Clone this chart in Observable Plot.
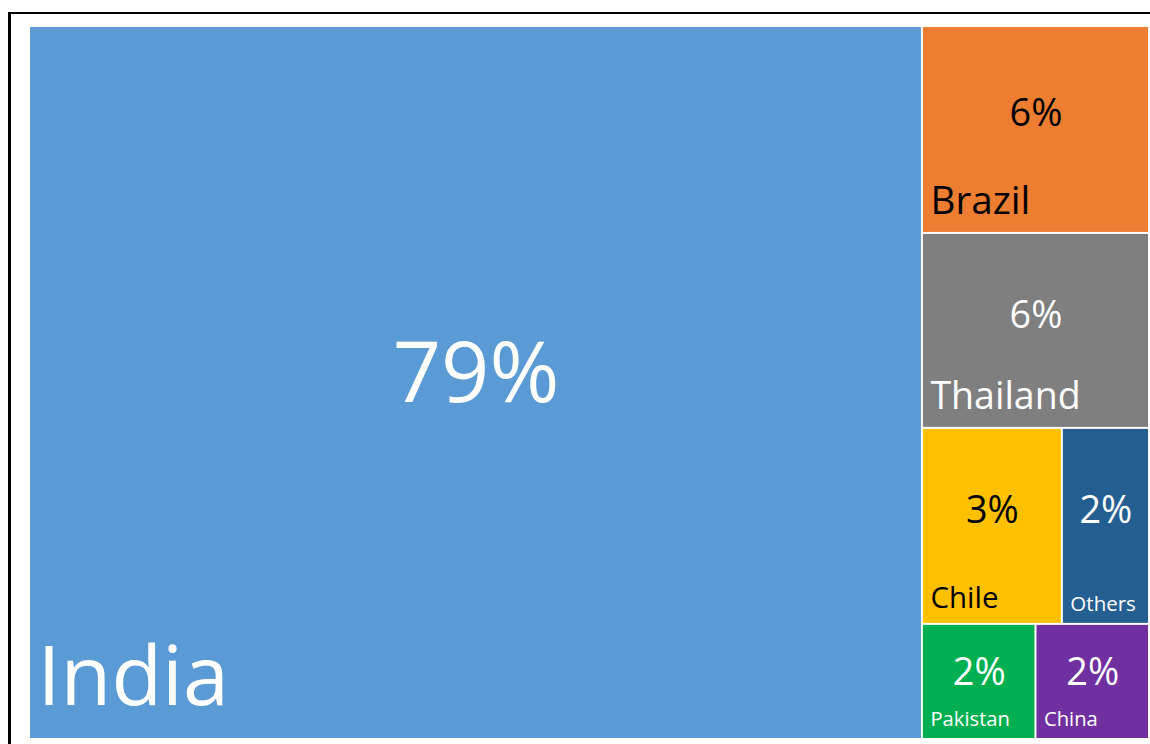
<!DOCTYPE html>
<html>
<head>
<meta charset="utf-8">
<script src="https://cdn.jsdelivr.net/npm/d3@7"></script>
<script src="https://cdn.jsdelivr.net/npm/@observablehq/plot@0.6"></script>
<style>
  html, body { margin: 0; padding: 0; background: #fff; overflow: hidden; width: 1150px; height: 744px; }
  #chart { position: absolute; left: 0; top: 0; }
  #frame { position: absolute; left: 8px; top: 12px; width: 1300px; height: 900px;
           border-left: 3px solid #000; border-top: 2px solid #000; box-sizing: border-box; z-index: 2; }
</style>
</head>
<body>
<div id="chart"></div>
<div id="frame"></div>
<script>
// ---- data ----
const countries = ["India", "Brazil", "Thailand", "Chile", "Others", "Pakistan", "China"];
const shares    = [79.4, 5.86, 5.52, 3.42, 2.13, 1.63, 1.63];      // % of total
const groupPath = ["", "Rest", "Rest", "Rest/Mid", "Rest/Mid", "Rest/Low", "Rest/Low"]; // nesting used by the layout
const palette   = ["#5B9BD5", "#ED7D31", "#7F7F7F", "#FFC000", "#255E91", "#00B050", "#7030A0"];
const darkLabels = new Set(["Brazil", "Chile"]);

// ---- layout (d3 treemap, slice/dice on the nested groups) ----
const W = 1120, H = 713;
const rows = countries.map((c, i) => ({
  path: "root/" + (groupPath[i] ? groupPath[i] + "/" : "") + c,
  name: c, share: shares[i]
}));
const root = d3.stratify().path(d => d.path)(rows)
  .sum(d => (d && d.share) || 0);
d3.treemap().tile(d3.treemapSliceDice).size([W, H]).round(false)(root);

const FONT_SCALE = 0.9; // Open Sans vs Calibri-like metrics
const cells = root.leaves().map(n => {
  const w = n.x1 - n.x0 - 2, h = n.y1 - n.y0 - 2, area = w * h;
  const nameCal = Math.min(92, 0.2 * Math.sqrt(area), (w - 14) / (0.52 * n.data.name.length));
  const valCal = Math.max(42, Math.min(94, 0.12 * Math.sqrt(area)));
  const lift = valCal > 60 ? 11 : 0.075 * h + 2;
  return {
    name: n.data.name,
    label: Math.round(n.data.share) + "%",
    left: n.x0, right: n.x1, top: n.y0, bottom: n.y1,
    cx: (n.x0 + n.x1) / 2,
    valueY: (n.y0 + n.y1) / 2 - lift + 0.322 * valCal,
    nameX: n.x0 + 8,
    nameY: n.y1 - 1 - (0.3 * nameCal + 6),
    valueSize: valCal * FONT_SCALE,
    nameSize: nameCal * FONT_SCALE,
    dark: darkLabels.has(n.data.name)
  };
});

const font = "'Open Sans', 'Noto Sans', sans-serif";
const textMarks = [];
for (const dark of [false, true]) {
  const sub = cells.filter(d => d.dark === dark);
  const ink = dark ? "#000000" : "#ffffff";
  textMarks.push(
    Plot.text(sub, {x: "cx", y: "valueY", text: "label", fontSize: d => d.valueSize,
      fill: ink, textAnchor: "middle", lineAnchor: "bottom", fontFamily: font}),
    Plot.text(sub, {x: "nameX", y: "nameY", text: "name", fontSize: d => d.nameSize,
      fill: ink, textAnchor: "start", lineAnchor: "bottom", fontFamily: font})
  );
}

const chart = Plot.plot({
  width: 1150, height: 744,
  marginLeft: 29, marginTop: 26, marginRight: 1, marginBottom: 5,
  x: {domain: [0, W], range: [29, 1149], axis: null},
  y: {domain: [0, H], range: [26, 739], axis: null},
  color: {domain: countries, range: palette},
  style: {background: "#ffffff", fontFamily: font},
  marks: [
    Plot.rect(cells, {x1: "left", x2: "right", y1: "top", y2: "bottom", fill: "name", inset: 1}),
    ...textMarks
  ]
});
document.getElementById("chart").appendChild(chart);
</script>
</body>
</html>
